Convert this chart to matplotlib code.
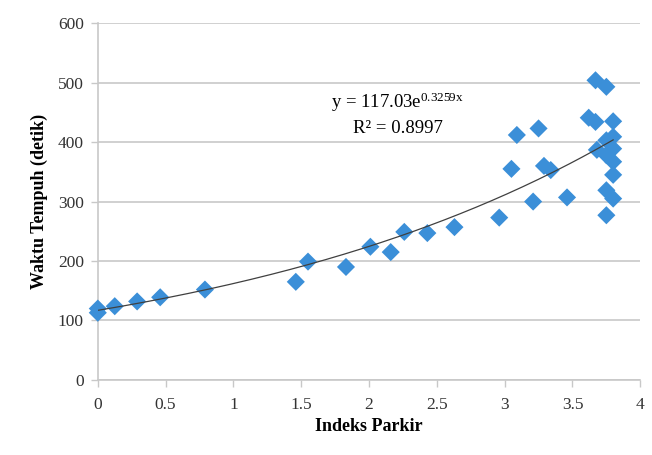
import numpy as np

import matplotlib
matplotlib.use("Agg")

import matplotlib.pyplot as plt

# parking index vs travel time
indeksParkir = [0.0, 0.0, 0.125, 0.29, 0.46, 0.79, 1.46, 1.55, 1.83, 2.01, 2.16, 2.26, 2.43, 2.63,
                2.96, 3.05, 3.09, 3.21, 3.25, 3.29, 3.34, 3.46, 3.62, 3.67, 3.67, 3.68, 3.75, 3.75,
                3.75, 3.75, 3.75, 3.80, 3.80, 3.80, 3.80, 3.80, 3.80]
waktuTempuh = [120, 113, 124, 132, 139, 152, 165, 199, 190, 224, 215, 249, 247, 257,
               273, 355, 412, 300, 423, 360, 353, 307, 441, 504, 434, 387, 493, 403,
               378, 319, 277, 435, 409, 389, 367, 345, 305]

# exponential fit y = a * exp(b x)
fitA = 117.03
fitB = 0.3259
fitR2 = 0.8997

serif = "Liberation Serif"
blue = "#3b8fd8"
grid = "#c8c8c8"

plt.rcParams["mathtext.fontset"] = "custom"
plt.rcParams["mathtext.rm"] = serif
plt.rcParams["mathtext.it"] = serif

fig = plt.figure(figsize=(6.52, 4.55), dpi=100)
ax = fig.add_axes([0.150, 0.165, 0.832, 0.784])

ax.scatter(indeksParkir, waktuTempuh, marker="D", s=85, color=blue, edgecolors="none", zorder=3)

xs = np.linspace(0, max(indeksParkir), 200)
ax.plot(xs, fitA * np.exp(fitB * xs), color="#404040", lw=0.9, zorder=4)

ax.text(2.21, 467, f"y = {fitA:.2f}e$^{{\\mathrm{{{fitB}x}}}}$", fontsize=13.5, family=serif,
        ha="center", va="center")
ax.text(2.21, 423, f"R² = {fitR2}", fontsize=13.5, family=serif, ha="center", va="center")

ax.set_xlim(0, 4)
ax.set_ylim(0, 600)
ax.set_xticks(np.arange(0, 4.01, 0.5))
ax.set_xticklabels(["0", "0.5", "1", "1.5", "2", "2.5", "3", "3.5", "4"])
ax.set_yticks(range(0, 601, 100))

ax.yaxis.grid(True, color=grid, lw=1.2)
ax.set_axisbelow(True)
for side in ["top", "right"]:
	ax.spines[side].set_visible(False)
for side in ["left", "bottom"]:
	ax.spines[side].set_color(grid)
	ax.spines[side].set_linewidth(1.2)
ax.tick_params(axis="both", color=grid, length=5, width=1.0, labelsize=12.5)
ax.tick_params(axis="x", pad=7)
ax.tick_params(axis="y", pad=5)
for lbl in ax.get_xticklabels() + ax.get_yticklabels():
	lbl.set_family(serif)
	lbl.set_color("#333333")

ax.set_xlabel("Indeks Parkir", family=serif, fontsize=13, fontweight="bold", labelpad=4)
ax.set_ylabel("Waktu Tempuh (detik)", family=serif, fontsize=13, fontweight="bold", labelpad=7)

# keep markers unclipped at the edges
for coll in ax.collections:
	coll.set_clip_on(False)

plt.savefig("out.png", dpi=100)
